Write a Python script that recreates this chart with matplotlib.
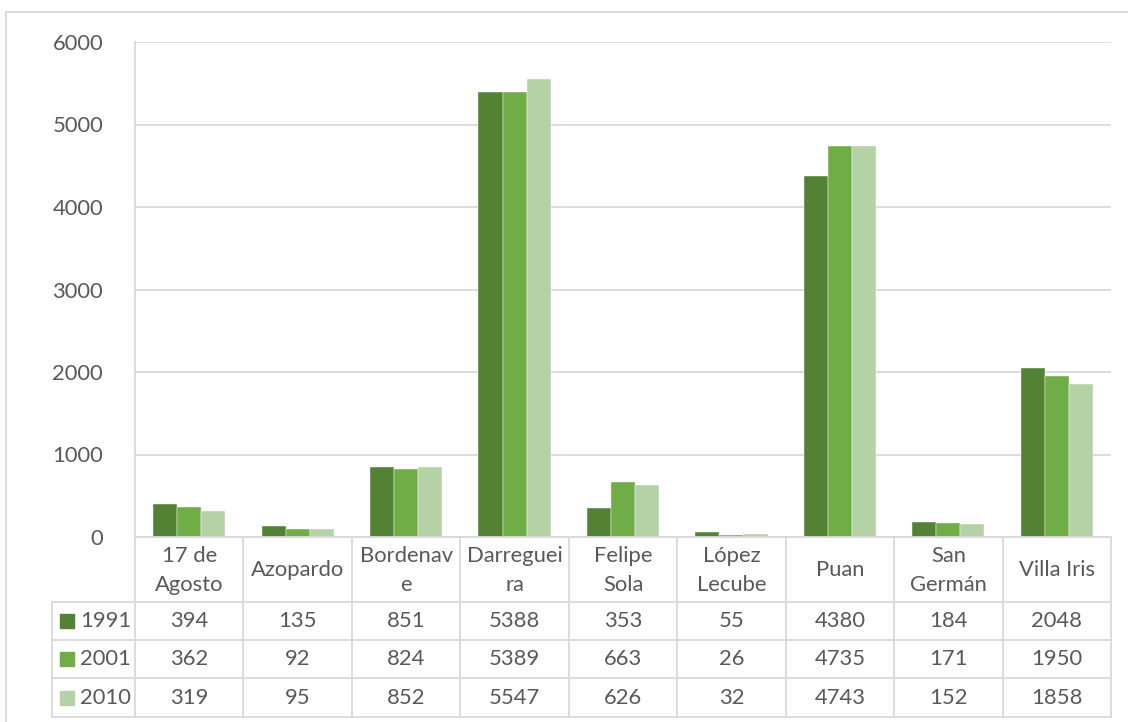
import numpy as np
import matplotlib
matplotlib.use("Agg")
import matplotlib.pyplot as plt
from matplotlib.patches import Rectangle

# Population by locality, three census years
localities = ["17 de\nAgosto", "Azopardo", "Bordenav\ne", "Darreguei\nra",
              "Felipe\nSola", "López\nLecube", "Puan", "San\nGermán",
              "Villa Iris"]
years = ["1991", "2001", "2010"]
pop_1991 = [394, 135, 851, 5388, 353, 55, 4380, 184, 2048]
pop_2001 = [362, 92, 824, 5389, 663, 26, 4735, 171, 1950]
pop_2010 = [319, 95, 852, 5547, 626, 32, 4743, 152, 1858]
colors = ["#548235", "#70AD47", "#B4D2A6"]

series = [pop_1991, pop_2001, pop_2010]

W, H = 1128, 722
grid_col = "#D9D9D9"
text_col = "#595959"
fsize = 15.8
plt.rcParams["font.family"] = ["Lato", "DejaVu Sans"]

fig = plt.figure(figsize=(W / 100, H / 100), dpi=100)

# outer chart frame
fig.patches.append(Rectangle((6 / W, -0.1), 1.2, 1 - 12 / H + 0.1,
                             transform=fig.transFigure, fill=False,
                             ec=grid_col, lw=1.3))

# plot area
px_l, px_r, px_t, px_b = 135, 1111, 42, 537
ax = fig.add_axes([px_l / W, 1 - px_b / H, (px_r - px_l) / W,
                   (px_b - px_t) / H])
n = len(localities)
x = np.arange(n) + 0.5
bw = 0.222
for k, vals in enumerate(series):
    ax.bar(x + (k - 1) * bw, vals, width=bw, color=colors[k],
           edgecolor="white", linewidth=0.3, zorder=3)

ax.set_xlim(0, n)
ax.set_ylim(0, 6000)
ax.set_yticks(range(0, 6001, 1000))
ax.set_xticks([])
ax.grid(axis="y", color=grid_col, lw=1.3, zorder=0)
for s in ["top", "right", "bottom"]:
    ax.spines[s].set_visible(False)
ax.spines["left"].set_color(grid_col)
ax.spines["left"].set_linewidth(1.3)
ax.tick_params(axis="y", length=0, pad=23, labelsize=fsize,
               labelcolor=text_col)

# data table below the bars
tb_l, tb_b = 52, 717
leg_w = (px_l - tb_l) / ((px_r - px_l) / n)
tax = fig.add_axes([tb_l / W, 1 - tb_b / H, (px_r - tb_l) / W,
                    (tb_b - px_b) / H])
tax.set_xlim(-leg_w, n)
tax.set_ylim(tb_b - px_b, 0)
tax.axis("off")

rows = [0, 65, 103, 141, 180]
lk = dict(color=grid_col, lw=1.3, clip_on=False)
tax.plot([0, n], [rows[0], rows[0]], **lk)
for r in rows[1:]:
    tax.plot([-leg_w, n], [r, r], **lk)
for c in range(n + 1):
    tax.plot([c, c], [rows[0], rows[-1]], **lk)
tax.plot([-leg_w, -leg_w], [rows[1], rows[-1]], **lk)

for i, name in enumerate(localities):
    tax.text(i + 0.5, (rows[0] + rows[1]) / 2 + 1, name, ha="center",
             va="center", fontsize=fsize, color=text_col, linespacing=1.55)
    for k, vals in enumerate(series):
        tax.text(i + 0.5, (rows[k + 1] + rows[k + 2]) / 2, str(vals[i]),
                 ha="center", va="center", fontsize=fsize, color=text_col)

# legend keys inside the first column
for k, yr in enumerate(years):
    yc = (rows[k + 1] + rows[k + 2]) / 2
    tax.add_patch(Rectangle((-leg_w + 0.075, yc - 7), 0.13, 14,
                            color=colors[k], clip_on=False))
    tax.text(-leg_w + 0.26, yc, yr, ha="left", va="center",
             fontsize=fsize, color=text_col)

fig.savefig("out.png", dpi=100)
